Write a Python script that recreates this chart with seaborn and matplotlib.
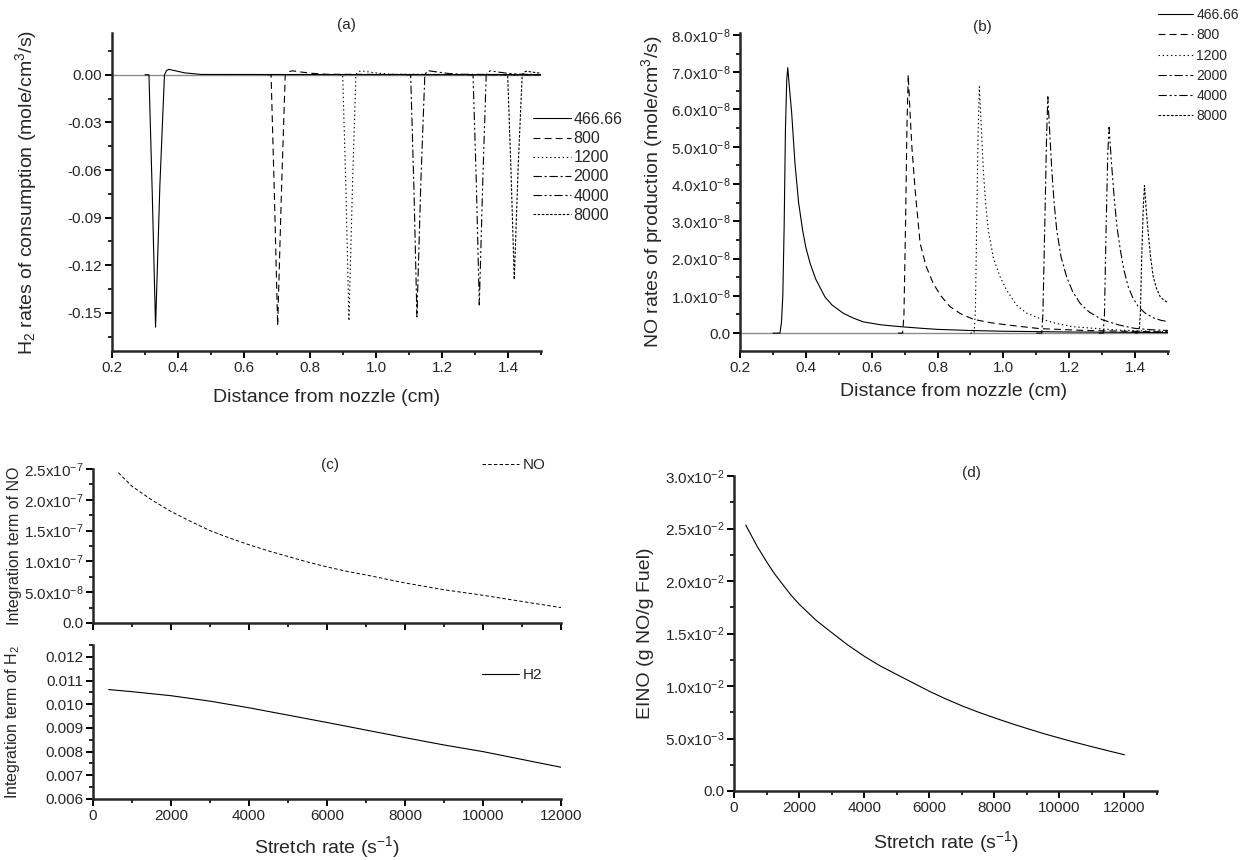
import numpy as np
import pandas as pd
import matplotlib
matplotlib.use('Agg')
import matplotlib.pyplot as plt
import seaborn as sns
from matplotlib.ticker import MultipleLocator, FuncFormatter

# === values ===
rates = ['466.66', '800', '1200', '2000', '4000', '8000']

# (a) H2 rate of consumption vs distance from nozzle
h2_x_466 = [0.30, 0.312, 0.322, 0.332, 0.345, 0.359, 0.365, 0.372, 0.39, 0.42, 0.47, 1.50]
h2_y_466 = [0, 0, -0.075, -0.159, -0.07, 0, 0.0026, 0.0034, 0.0026, 0.0012, 0.0002, 0]
h2_x_800 = [0.67, 0.682, 0.692, 0.702, 0.714, 0.725, 0.735, 0.747, 0.77, 0.80, 0.85, 1.50]
h2_y_800 = [0, 0, -0.075, -0.158, -0.07, 0, 0.0019, 0.0025, 0.0018, 0.0010, 0.0003, 0]
h2_x_1200 = [0.89, 0.899, 0.909, 0.918, 0.929, 0.939, 0.947, 0.955, 0.98, 1.01, 1.05, 1.50]
h2_y_1200 = [0, 0, -0.073, -0.155, -0.068, 0, 0.0019, 0.0025, 0.0017, 0.0009, 0.0003, 0]
h2_x_2000 = [1.09, 1.105, 1.115, 1.124, 1.136, 1.148, 1.154, 1.16, 1.19, 1.22, 1.26, 1.50]
h2_y_2000 = [0, 0, -0.072, -0.1525, -0.067, 0, 0.0019, 0.0025, 0.0016, 0.0008, 0.0003, 0]
h2_x_4000 = [1.28, 1.294, 1.304, 1.313, 1.324, 1.334, 1.341, 1.347, 1.37, 1.40, 1.43, 1.50]
h2_y_4000 = [0, 0, -0.068, -0.145, -0.064, 0, 0.0019, 0.0025, 0.0017, 0.0009, 0.0004, 0.0001]
h2_x_8000 = [1.39, 1.399, 1.409, 1.419, 1.431, 1.443, 1.449, 1.455, 1.47, 1.49, 1.50]
h2_y_8000 = [0, 0, -0.06, -0.129, -0.057, 0, 0.0017, 0.0022, 0.0018, 0.0012, 0.001]

# (b) NO rate of production (units of 1e-8 mole/cm3/s)
no_x_466 = [0.30, 0.3215, 0.326, 0.330, 0.334, 0.338, 0.342, 0.345, 0.350, 0.357, 0.367, 0.378,
            0.390, 0.40, 0.413, 0.43, 0.458, 0.48, 0.514, 0.545, 0.575, 0.63, 0.691, 0.75, 0.80,
            0.9, 1.0, 1.2, 1.5]
no_y_466 = [0, 0, 0.3, 1.0, 2.8, 5.45, 6.8, 7.12, 6.6, 5.9, 4.55, 3.5,
            2.77, 2.3, 1.87, 1.45, 0.97, 0.75, 0.53, 0.40, 0.30, 0.22, 0.17, 0.13, 0.10,
            0.07, 0.05, 0.03, 0.015]
no_x_800 = [0.68, 0.694, 0.698, 0.703, 0.707, 0.711, 0.716, 0.722, 0.732, 0.747, 0.765, 0.787,
            0.81, 0.838, 0.87, 0.909, 0.96, 1.02, 1.111, 1.25, 1.5]
no_y_800 = [0, 0, 0.5, 3.0, 5.5, 6.93, 6.0, 5.0, 3.84, 2.41, 1.8, 1.33,
            1.0, 0.71, 0.52, 0.37, 0.28, 0.21, 0.12, 0.07, 0.03]
no_x_1200 = [0.90, 0.911, 0.915, 0.919, 0.923, 0.927, 0.932, 0.939, 0.946, 0.954, 0.97, 0.990,
             1.01, 1.04, 1.07, 1.111, 1.16, 1.212, 1.35, 1.5]
no_y_1200 = [0, 0, 0.6, 3.0, 5.3, 6.61, 5.7, 4.38, 3.5, 2.77, 2.0, 1.51,
             1.15, 0.75, 0.54, 0.39, 0.26, 0.17, 0.08, 0.04]
no_x_2000 = [1.10, 1.1164, 1.12, 1.126, 1.131, 1.135, 1.140, 1.147, 1.154, 1.162, 1.175, 1.192,
             1.21, 1.233, 1.26, 1.30, 1.35, 1.397, 1.45, 1.5]
no_y_2000 = [0, 0, 0.5, 3.0, 5.2, 6.34, 5.5, 4.38, 3.5, 2.77, 2.05, 1.51,
             1.12, 0.80, 0.57, 0.36, 0.22, 0.13, 0.09, 0.07]
no_x_4000 = [1.29, 1.303, 1.307, 1.312, 1.317, 1.321, 1.328, 1.337, 1.345, 1.355, 1.366, 1.379,
             1.393, 1.409, 1.43, 1.458, 1.48, 1.5]
no_y_4000 = [0, 0, 0.5, 2.8, 4.8, 5.52, 4.6, 3.58, 2.85, 2.24, 1.7, 1.25,
             0.95, 0.72, 0.54, 0.40, 0.34, 0.31]
no_x_8000 = [1.40, 1.412, 1.416, 1.42, 1.425, 1.4286, 1.434, 1.44, 1.447, 1.455, 1.465, 1.476,
             1.488, 1.5]
no_y_8000 = [0, 0, 0.5, 2.0, 3.4, 3.96, 3.3, 2.68, 2.05, 1.52, 1.2, 0.98,
             0.88, 0.82]

# (c) integration terms vs stretch rate
int_no_x = [650, 1000, 1500, 2000, 2500, 3000, 3500, 4000, 4500, 5000, 5500, 6000, 6500, 7000,
            8000, 9000, 10000, 11000, 12000]
int_no_y = [2.44e-7, 2.22e-7, 2.0e-7, 1.81e-7, 1.65e-7, 1.50e-7, 1.38e-7, 1.27e-7, 1.17e-7,
            1.08e-7, 0.99e-7, 0.91e-7, 0.84e-7, 0.78e-7, 0.65e-7, 0.54e-7, 0.45e-7, 0.35e-7, 0.25e-7]
int_h2_x = [400, 1000, 2000, 3000, 4000, 5000, 6000, 7000, 8000, 9000, 10000, 11000, 12000]
int_h2_y = [0.01062, 0.01053, 0.01036, 0.01013, 0.00985, 0.00954, 0.00923, 0.00891, 0.00859,
            0.00828, 0.00800, 0.00767, 0.00734]

# (d) EINO vs stretch rate
eino_x = [360, 720, 1030, 1250, 1490, 1750, 2000, 2510, 3030, 3500, 4020, 4500, 5030, 5500,
          6030, 6500, 7030, 7500, 8050, 8500, 9060, 9500, 10050, 10500, 11000, 11500, 12000]
eino_y = [0.02533, 0.02325, 0.0217, 0.02067, 0.0197, 0.01866, 0.0178, 0.01629, 0.01502,
          0.0139, 0.0128, 0.0119, 0.01105, 0.0103, 0.00946, 0.00878, 0.00808, 0.00752, 0.00692,
          0.00645, 0.0059, 0.00548, 0.005, 0.00462, 0.00422, 0.00383, 0.00345]

h2_xs = [h2_x_466, h2_x_800, h2_x_1200, h2_x_2000, h2_x_4000, h2_x_8000]
h2_ys = [h2_y_466, h2_y_800, h2_y_1200, h2_y_2000, h2_y_4000, h2_y_8000]
no_xs = [no_x_466, no_x_800, no_x_1200, no_x_2000, no_x_4000, no_x_8000]
no_ys = [no_y_466, no_y_800, no_y_1200, no_y_2000, no_y_4000, no_y_8000]

line_styles = ['-', (0, (5, 3)), (0, (1, 2)), (0, (6, 2, 1.5, 2)),
               (0, (6, 2, 1.5, 2, 1.5, 2)), (0, (1.8, 1.2))]

# === style ===
sns.set_style('ticks')
plt.rcParams['font.family'] = ['Liberation Sans', 'DejaVu Sans']
plt.rcParams['mathtext.default'] = 'regular'
plt.rcParams['lines.scale_dashes'] = False

W, H = 1246, 860
fig = plt.figure(figsize=(W / 100, H / 100), dpi=100)


def box(left, top, right, bottom):
    return [left / W, 1 - bottom / H, (right - left) / W, (bottom - top) / H]


def style_axes(ax):
    sns.despine(ax=ax)
    for s in ['left', 'bottom']:
        ax.spines[s].set_linewidth(1.8)
    ax.tick_params(which='major', direction='out', length=5, width=1.4, labelsize=11, pad=2, color='black')
    ax.tick_params(which='minor', direction='out', length=2.8, width=1.2, color='black')


def sci(exp_list):
    def f(v, pos):
        if abs(v) < 1e-15:
            return '0.0'
        for e in exp_list:
            if abs(v) >= 10.0 ** e * 0.99:
                return '%.1fx10$^{%d}$' % (v / 10.0 ** e, e)
        return ''
    return FuncFormatter(f)


lw = 0.8

# --- (a) ---
ax_a = fig.add_axes(box(112, 33, 541, 351))
ax_a.axhline(0, color='0.55', lw=1.0, zorder=1)
for xs, ys, lab, ls in zip(h2_xs, h2_ys, rates, line_styles):
    sns.lineplot(x=xs, y=ys, ax=ax_a, color='black', lw=lw, linestyle=ls,
                 label=lab, estimator=None, sort=False)
ax_a.set_xlim(0.2, 1.5)
ax_a.set_ylim(-0.174, 0.0263)
ax_a.xaxis.set_major_locator(MultipleLocator(0.2))
ax_a.xaxis.set_minor_locator(MultipleLocator(0.1))
ax_a.yaxis.set_major_locator(MultipleLocator(0.03))
ax_a.yaxis.set_minor_locator(MultipleLocator(0.015))
ax_a.yaxis.set_major_formatter(FuncFormatter(lambda v, p: '%.2f' % (0.0 if abs(v) < 1e-9 else v)))
ax_a.set_xlabel('Distance from nozzle (cm)', fontsize=14)
ax_a.set_ylabel('H$_2$ rates of consumption (mole/cm$^3$/s)', fontsize=14)
ax_a.xaxis.set_label_coords(0.5, -0.12)
ax_a.yaxis.set_label_coords(-0.17, 0.5)
style_axes(ax_a)
ax_a.legend(loc='upper left', bbox_to_anchor=(533 / W, 1 - 112 / H), bbox_transform=fig.transFigure,
            frameon=False, fontsize=11.5, borderpad=0, borderaxespad=0, labelspacing=0.26,
            handlelength=2.35, handletextpad=0.2)
fig.text(346 / W, 1 - 25 / H, '(a)', ha='center', va='center', fontsize=11)

# --- (b) ---
ax_b = fig.add_axes(box(740, 33, 1168, 351))
ax_b.axhline(0, color='0.55', lw=1.0, zorder=1)
for xs, ys, lab, ls in zip(no_xs, no_ys, rates, line_styles):
    sns.lineplot(x=xs, y=[v * 1e-8 for v in ys], ax=ax_b, color='black', lw=lw, linestyle=ls,
                 label=lab, estimator=None, sort=False)
ax_b.set_xlim(0.2, 1.5)
ax_b.set_ylim(-0.48e-8, 8.05e-8)
ax_b.xaxis.set_major_locator(MultipleLocator(0.2))
ax_b.xaxis.set_minor_locator(MultipleLocator(0.1))
ax_b.yaxis.set_major_locator(MultipleLocator(1e-8))
ax_b.yaxis.set_minor_locator(MultipleLocator(0.5e-8))
ax_b.yaxis.set_major_formatter(sci([-8]))
ax_b.yaxis.get_offset_text().set_visible(False)
ax_b.set_xlabel('Distance from nozzle (cm)', fontsize=14)
ax_b.set_ylabel('NO rates of production (mole/cm$^3$/s)', fontsize=14)
ax_b.xaxis.set_label_coords(0.5, -0.10)
ax_b.yaxis.set_label_coords(-0.175, 0.5)
style_axes(ax_b)
ax_b.legend(loc='upper left', bbox_to_anchor=(1158 / W, 1 - 8 / H), bbox_transform=fig.transFigure,
            frameon=False, fontsize=10, borderpad=0, borderaxespad=0, labelspacing=0.45,
            handlelength=2.5, handletextpad=0.25)
fig.text(982 / W, 1 - 27 / H, '(b)', ha='center', va='center', fontsize=11)

# --- (c) ---
ax_c1 = fig.add_axes(box(93, 469, 561, 623))
ax_c2 = fig.add_axes(box(93, 645, 561, 799))
sns.lineplot(x=int_no_x, y=int_no_y, ax=ax_c1, color='black', lw=0.7, linestyle=(0, (2.5, 1.6)),
             label='NO', estimator=None, sort=False)
sns.lineplot(x=int_h2_x, y=int_h2_y, ax=ax_c2, color='black', lw=lw, linestyle='-',
             label='H2', estimator=None, sort=False)
for ax in (ax_c1, ax_c2):
    ax.set_xlim(0, 12000)
    ax.xaxis.set_major_locator(MultipleLocator(2000))
    ax.xaxis.set_minor_locator(MultipleLocator(1000))
    style_axes(ax)
ax_c1.set_ylim(0, 2.5e-7)
ax_c1.yaxis.set_major_locator(MultipleLocator(0.5e-7))
ax_c1.yaxis.set_minor_locator(MultipleLocator(0.25e-7))
ax_c1.yaxis.set_major_formatter(sci([-7, -8]))
ax_c1.tick_params(axis='x', labelbottom=False)
ax_c1.set_xlabel('')
ax_c2.set_ylim(0.006, 0.0125)
ax_c2.yaxis.set_major_locator(MultipleLocator(0.001))
ax_c2.yaxis.set_minor_locator(MultipleLocator(0.0005))
ax_c2.yaxis.set_major_formatter(FuncFormatter(lambda v, p: '%.3f' % v))
ax_c1.set_ylabel('Integration term of NO', fontsize=11.5)
ax_c2.set_ylabel('Integration term of H$_2$', fontsize=11.5)
ax_c1.yaxis.set_label_coords(-0.152, 0.5)
ax_c2.yaxis.set_label_coords(-0.152, 0.5)
ax_c2.set_xlabel('Stretch rate (s$^{-1}$)', fontsize=14)
ax_c2.xaxis.set_label_coords(0.5, -0.225)
for ax, yc in ((ax_c1, 465), (ax_c2, 675)):
    ax.legend(loc='center left', bbox_to_anchor=(482 / W, 1 - yc / H), bbox_transform=fig.transFigure,
              frameon=False, fontsize=11, borderpad=0, borderaxespad=0,
              handlelength=2.4, handletextpad=0.25)
fig.text(330 / W, 1 - 465 / H, '(c)', ha='center', va='center', fontsize=11)

# --- (d) ---
ax_d = fig.add_axes(box(734, 476, 1157, 791))
sns.lineplot(x=eino_x, y=eino_y, ax=ax_d, color='black', lw=lw, estimator=None, sort=False)
ax_d.set_xlim(0, 13000)
ax_d.set_ylim(0, 0.03)
ax_d.xaxis.set_major_locator(MultipleLocator(2000))
ax_d.xaxis.set_minor_locator(MultipleLocator(1000))
ax_d.yaxis.set_major_locator(MultipleLocator(0.005))
ax_d.yaxis.set_minor_locator(MultipleLocator(0.0025))
ax_d.yaxis.set_major_formatter(sci([-2, -3]))
ax_d.set_xlabel('Stretch rate (s$^{-1}$)', fontsize=14)
ax_d.set_ylabel('EINO (g NO/g Fuel)', fontsize=14)
ax_d.xaxis.set_label_coords(0.5, -0.12)
ax_d.yaxis.set_label_coords(-0.19, 0.5)
style_axes(ax_d)
fig.text(971 / W, 1 - 473 / H, '(d)', ha='center', va='center', fontsize=11)

fig.savefig('out.png', dpi=100)
